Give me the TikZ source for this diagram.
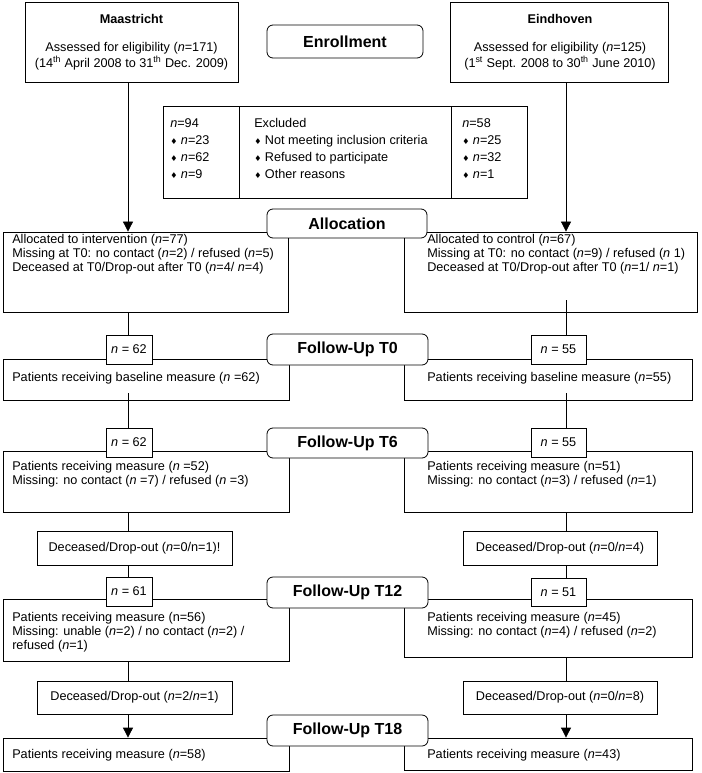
\documentclass[tikz,border=0pt]{standalone}
\usepackage{fontspec}
\setmainfont{Liberation Sans}
\newfontfamily\symfont{DejaVu Sans}
\usetikzlibrary{fit,calc,arrows.meta}
\newcommand\dmd{{\symfont\fontsize{6}{6}\selectfont\char"2666}}
\newcommand\nn{\textit{n}}
\newcommand\bodyfont{\fontsize{9.5}{10.7}\selectfont}
\newcommand\exfont{\fontsize{9.5}{12.75}\selectfont}
\newcommand\headfont{\fontsize{12}{14}\selectfont\bfseries}
\begin{document}
\begin{tikzpicture}[x=0.75pt,y=-0.75pt,
  box/.style={draw, line width=0.6pt, inner sep=0pt, font=\bodyfont},
  cbox/.style={box, fill=white, minimum width=#1},
  rbox/.style={box, fill=white, rounded corners=4.5pt, font=\headfont, minimum width=#1},
  txt/.style={inner sep=0pt, align=left, font=\bodyfont, anchor=north west},
  ctxt/.style={inner sep=0pt, font=\bodyfont, anchor=base},
  conn/.style={draw, line width=0.6pt},
  arr/.style={conn, -{Triangle[width=7.5pt,length=7.5pt]}}]
\useasboundingbox (0,0) rectangle (701,773);

% main boxes
\node[box, fit={(25,2) (238,82)}] (maas) {};
\node[box, fit={(450,2) (668,82)}] (eind) {};
\node[box, fit={(163,106) (239,198)}] (exA) {};
\node[box, fit={(239,106) (451,198)}] (exB) {};
\node[box, fit={(451,106) (527,198)}] (exC) {};
\node[box, fit={(3,232) (288,312)}] (allocL) {};
\node[box, fit={(404,232) (697,312)}] (allocR) {};
\node[box, fit={(3,359) (289,400)}] (t0L) {};
\node[box, fit={(404,359) (692,400)}] (t0R) {};
\node[box, fit={(3,451) (289,512)}] (t6L) {};
\node[box, fit={(404,451) (692,512)}] (t6R) {};
\node[cbox=146.25pt, minimum height=25.5pt] (d1L) at (134.5,548) {Deceased/Drop-out (\nn=0/n=1)!};
\node[cbox=145.5pt, minimum height=25.5pt] (d1R) at (560,548) {Deceased/Drop-out (\nn=0/\nn=4)};
\node[box, fit={(3,599) (289,661)}] (t12L) {};
\node[box, fit={(404,599) (692,657)}] (t12R) {};
\node[cbox=146.25pt, minimum height=24.75pt] (d2L) at (134.5,697.5) {Deceased/Drop-out (\nn=2/\nn=1)};
\node[cbox=145.5pt, minimum height=24.75pt] (d2R) at (560,697.5) {Deceased/Drop-out (\nn=0/\nn=8)};
\node[box, fit={(3,738) (289,771)}] (t18L) {};
\node[box, fit={(404,738) (692,770)}] (t18R) {};

% texts
\node[ctxt] (maasA) at (131.5,24) {\textbf{Maastricht}};
\node[ctxt] (maasB) at (131.5,52) {Assessed for eligibility (\nn=171)};
\node[ctxt] (maasC) at (131.5,68) {(14\textsuperscript{th} April 2008 to 31\textsuperscript{th} Dec. 2009)};
\node[ctxt] (eindA) at (560,24) {\textbf{Eindhoven}};
\node[ctxt] (eindB) at (560,52) {Assessed for eligibility (\nn=125)};
\node[ctxt] (eindC) at (560,68) {(1\textsuperscript{st} Sept. 2008 to 30\textsuperscript{th} June 2010)};

\node[txt, font=\exfont] (exAT) at (170,118) {\nn=94\\\dmd\ \nn=23\\\dmd\ \nn=62\\\dmd\ \nn=9};
\node[txt, font=\exfont] (exBT) at (254,118) {Excluded\\\dmd\ Not meeting inclusion criteria\\\dmd\ Refused to participate\\\dmd\ Other reasons};
\node[txt, font=\exfont] (exCT) at (462,118) {\nn=58\\\dmd\ \nn=25\\\dmd\ \nn=32\\\dmd\ \nn=1};

\node[txt] (allocLT) at (12,234) {Allocated to intervention (\nn=77)\\Missing at T0: no contact (\nn=2) / refused (\nn=5)\\Deceased at T0/Drop-out after T0 (\nn=4/ \nn=4)};
\node[txt] (allocRT) at (427,234) {Allocated to control (\nn=67)\\Missing at T0: no contact (\nn=9) / refused (\nn{} 1)\\Deceased at T0/Drop-out after T0 (\nn=1/ \nn=1)};
\node[txt] (t0LT) at (12,372) {Patients receiving baseline measure (\nn{} =62)};
\node[txt] (t0RT) at (427,372) {Patients receiving baseline measure (\nn=55)};
\node[txt] (t6LT) at (12,461) {Patients receiving measure (\nn{} =52)\\Missing: no contact (\nn{} =7) / refused (\nn{} =3)};
\node[txt] (t6RT) at (427,461) {Patients receiving measure (n=51)\\Missing: no contact (\nn=3) / refused (\nn=1)};
\node[txt] (t12LT) at (12,612) {Patients receiving measure (n=56)\\Missing: unable (\nn=2) / no contact (\nn=2) /\\refused (\nn=1)};
\node[txt] (t12RT) at (427,612) {Patients receiving measure (\nn=45)\\Missing: no contact (\nn=4) / refused (\nn=2)};
\node[txt] (t18LT) at (12,749) {Patients receiving measure (\nn=58)};
\node[txt] (t18RT) at (427,749) {Patients receiving measure (\nn=43)};

% connector columns
\coordinate (xl) at (128,0);
\coordinate (xr) at (566,0);

\node[cbox=34.5pt, minimum height=21.75pt] (n0L) at (129,349.5) {\nn{} = 62};
\node[cbox=41.25pt, minimum height=21.75pt] (n0R) at (558.5,349.5) {\nn{} = 55};
\node[cbox=34.5pt, minimum height=21.75pt] (n6L) at (129,442.5) {\nn{} = 62};
\node[cbox=41.25pt, minimum height=21.75pt] (n6R) at (558.5,442.5) {\nn{} = 55};
\node[cbox=34.5pt, minimum height=21.75pt] (n12L) at (129,591.5) {\nn{} = 61};
\node[cbox=41.25pt, minimum height=21pt] (n12R) at (558.5,592) {\nn{} = 51};

\draw[arr] (maas.south -| xl) -- (allocL.north -| xl);
\draw[conn] (allocL.south -| xl) -- (n0L.north -| xl);
\draw[conn] ($(t0L.south -| xl)+(0,-7)$) -- (n6L.north -| xl);
\draw[conn] (t6L.south -| xl) -- (d1L.north -| xl);
\draw[conn] (d1L.south -| xl) -- (n12L.north -| xl);
\draw[conn] (t12L.south -| xl) -- (d2L.north -| xl);
\draw[arr] (d2L.south -| xl) -- (t18L.north -| xl);

\draw[arr] (eind.south -| xr) -- (allocR.north -| xr);
\draw[conn] ($(allocR.south -| xr)+(0,-12)$) -- (n0R.north -| xr);
\draw[conn] ($(t0R.south -| xr)+(0,-7)$) -- (n6R.north -| xr);
\draw[conn] (t6R.south -| xr) -- (d1R.north -| xr);
\draw[conn] (d1R.south -| xr) -- (n12R.north -| xr);
\draw[conn] (t12R.south -| xr) -- (d2R.north -| xr);
\draw[arr] (d2R.south -| xr) -- (t18R.north -| xr);

% stage boxes
\node[rbox=117pt, minimum height=24.75pt] (enr) at (345,41.5) {Enrollment};
\node[rbox=120pt, minimum height=21.75pt] (alloc) at (347,223.5) {Allocation};
\node[rbox=120.75pt, minimum height=23.25pt] (fu0) at (347.5,349.5) {Follow-Up T0};
\node[rbox=120.75pt, minimum height=22.5pt] (fu6) at (347.5,443) {Follow-Up T6};
\node[rbox=120.75pt, minimum height=23.25pt] (fu12) at (347.5,592.5) {Follow-Up T12};
\node[rbox=120.75pt, minimum height=23.25pt] (fu18) at (347.5,730.5) {Follow-Up T18};
\end{tikzpicture}
\end{document}
